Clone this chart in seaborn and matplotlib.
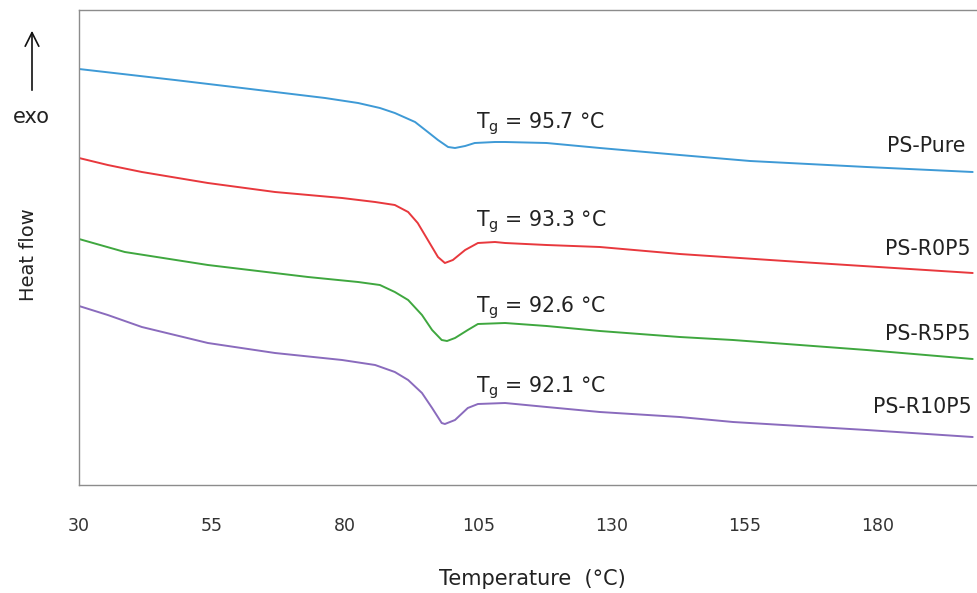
import numpy as np
import pandas as pd
import matplotlib
matplotlib.use("Agg")
import matplotlib.pyplot as plt
import seaborn as sns

# ---------------- data ----------------
series_names = ["PS-Pure", "PS-R0P5", "PS-R5P5", "PS-R10P5"]
tg_values = [95.7, 93.3, 92.6, 92.1]

t_pure = [30.0, 48.0, 60.6, 76.2, 82.4, 86.5, 89.3, 93.1, 95.5, 97.4, 99.3, 100.6,
          102.5, 104.3, 108.1, 110.0, 117.8, 127.8, 142.8, 156.0, 177.9, 197.8]
hf_pure = [4.31, 4.20, 4.12, 4.02, 3.97, 3.92, 3.87, 3.78, 3.68, 3.60, 3.53, 3.52,
           3.54, 3.57, 3.58, 3.58, 3.57, 3.52, 3.45, 3.39, 3.33, 3.28]

t_r0p5 = [30.0, 35.4, 41.8, 54.2, 66.8, 79.4, 85.6, 89.3, 91.8, 93.6, 95.5, 97.4,
          98.7, 100.2, 102.5, 104.9, 108.1, 110.0, 117.8, 127.8, 142.8, 165.4, 197.8]
hf_r0p5 = [3.42, 3.35, 3.28, 3.17, 3.08, 3.02, 2.98, 2.95, 2.88, 2.77, 2.60, 2.43,
           2.37, 2.40, 2.50, 2.57, 2.58, 2.57, 2.55, 2.53, 2.46, 2.38, 2.27]

t_r5p5 = [30.0, 38.6, 54.2, 73.0, 82.4, 86.5, 89.3, 91.8, 94.4, 96.3, 98.1, 99.1,
          100.6, 103.0, 104.9, 110.0, 117.8, 127.8, 142.8, 152.8, 177.9, 197.8]
hf_r5p5 = [2.61, 2.48, 2.35, 2.23, 2.18, 2.15, 2.08, 2.00, 1.85, 1.70, 1.60, 1.59,
           1.62, 1.70, 1.76, 1.77, 1.74, 1.69, 1.63, 1.60, 1.50, 1.41]

t_r10p5 = [30.0, 35.4, 41.8, 54.2, 66.8, 79.4, 85.6, 89.3, 91.8, 94.4, 96.3, 98.1,
           98.7, 100.6, 103.0, 104.9, 110.0, 117.8, 127.8, 142.8, 152.8, 177.9, 197.8]
hf_r10p5 = [1.94, 1.85, 1.73, 1.57, 1.47, 1.40, 1.35, 1.28, 1.20, 1.07, 0.92, 0.77,
            0.76, 0.80, 0.92, 0.96, 0.97, 0.93, 0.88, 0.83, 0.78, 0.70, 0.63]

x_ticks = [30, 55, 80, 105, 130, 155, 180]

# ---------------- style ----------------
colors = ["#3e9ad6", "#e8383d", "#3fa73f", "#8a6bbd"]
sns.set_style("white")
plt.rcParams["font.family"] = ["DejaVu Sans"]

frames = []
for name, t, hf in zip(series_names,
                       [t_pure, t_r0p5, t_r5p5, t_r10p5],
                       [hf_pure, hf_r0p5, hf_r5p5, hf_r10p5]):
    frames.append(pd.DataFrame({"Temperature": t, "HeatFlow": hf, "Sample": name}))
df = pd.concat(frames, ignore_index=True)

fig = plt.figure(figsize=(9.78, 5.93), dpi=100)
ax = fig.add_axes([79 / 978, 108 / 593, 899 / 978, 475 / 593])

sns.lineplot(data=df, x="Temperature", y="HeatFlow", hue="Sample",
             hue_order=series_names, palette=colors, estimator=None, sort=False,
             linewidth=1.4, legend=False, ax=ax)

ax.set_xlim(30, 198.8)
ax.set_ylim(0.15, 4.90)
ax.set_xticks(x_ticks)
ax.set_xticklabels([str(v) for v in x_ticks], fontsize=12.5, color="#333333")
ax.set_yticks([])
ax.tick_params(axis="x", direction="out", length=7, width=1, color="#8c8c8c", pad=16)

for side in ["left", "bottom", "top"]:
    ax.spines[side].set_color("#8c8c8c")
    ax.spines[side].set_linewidth(1.0)
ax.spines["right"].set_visible(False)

ax.set_xlabel("Temperature  (\u00b0C)", fontsize=15, color="#222222")
ax.xaxis.set_label_coords(0.504, -0.177)
ax.set_ylabel("Heat flow", fontsize=14, color="#222222")
ax.yaxis.set_label_coords(-0.046, 0.484)

# Tg annotations
tg_pos_y = [3.72, 2.74, 1.88, 1.08]
for tg, yy in zip(tg_values, tg_pos_y):
    ax.text(104.5, yy, r"T$_\mathregular{g}$ = " + f"{tg} \u00b0C",
            fontsize=14.8, color="#222222", ha="left", va="baseline")

# curve labels
lab_x = [181.7, 181.3, 181.3, 179.1]
lab_y = [3.48, 2.45, 1.60, 0.87]
for name, lx, ly in zip(series_names, lab_x, lab_y):
    ax.text(lx, ly, name, fontsize=14.8, color="#222222", ha="left",
            va="baseline", clip_on=False)

# exo arrow
fig.text(31 / 978, 1 - 117 / 593, "exo", fontsize=15, color="#222222",
         ha="center", va="center")
fig.add_artist(matplotlib.patches.FancyArrowPatch(
    (32 / 978, 1 - 93 / 593), (32 / 978, 1 - 28 / 593),
    transform=fig.transFigure, arrowstyle="->,head_length=0.7,head_width=0.35",
    color="#111111", linewidth=1.2, mutation_scale=14))

fig.savefig("out.png", dpi=100)
